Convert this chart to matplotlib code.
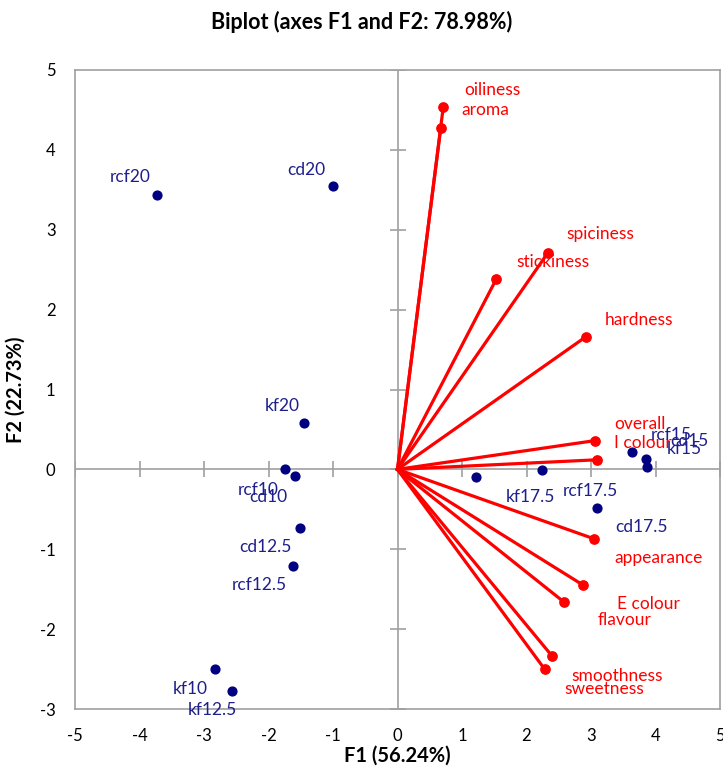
import matplotlib.pyplot as plt

# observations (F1, F2)
obs_names = ['rcf20', 'cd20', 'kf20', 'rcf10', 'cd10', 'cd12.5', 'rcf12.5', 'kf10', 'kf12.5',
             'kf17.5', 'rcf17.5', 'cd17.5', 'rcf15', 'cd15', 'kf15']
obs_f1 = [-3.73, -1.00, -1.45, -1.74, -1.59, -1.51, -1.62, -2.83, -2.57,
          1.22, 2.24, 3.09, 3.64, 3.85, 3.87]
obs_f2 = [3.44, 3.55, 0.58, 0.00, -0.08, -0.74, -1.21, -2.50, -2.78,
          -0.09, -0.01, -0.48, 0.22, 0.13, 0.03]

# variables (F1, F2)
var_names = ['oiliness', 'aroma', 'spiciness', 'stickiness', 'hardness', 'overall', 'I colour',
             'appearance', 'E colour', 'flavour', 'smoothness', 'sweetness']
var_f1 = [0.71, 0.67, 2.33, 1.53, 2.92, 3.06, 3.09, 3.05, 2.88, 2.58, 2.40, 2.28]
var_f2 = [4.54, 4.27, 2.71, 2.38, 1.66, 0.36, 0.12, -0.87, -1.45, -1.66, -2.34, -2.50]

xticks = list(range(-5, 6))
yticks = list(range(-3, 6))

RED = '#ff0000'
NAVY = '#000080'
LNAVY = '#1f1f8c'
GRAY = '#a0a0a0'

plt.rcParams['font.family'] = ['Lato', 'DejaVu Sans']
plt.rcParams['axes.unicode_minus'] = False

fig = plt.figure(figsize=(7.23, 7.74), dpi=100)
ax = fig.add_axes([75 / 723, 1 - 709 / 774, 645 / 723, 639 / 774])
ax.set_xlim(-5, 5)
ax.set_ylim(-3, 5)

# zero axes with tick marks
ax.axhline(0, color=GRAY, lw=1.2, zorder=1)
ax.axvline(0, color=GRAY, lw=1.2, zorder=1)
ax.plot(xticks, [0] * len(xticks), ls='none', marker='|', ms=11, mew=1.2, color=GRAY, zorder=1)
ax.plot([0] * len(yticks), yticks, ls='none', marker='_', ms=11, mew=1.2, color=GRAY, zorder=1)

# variable vectors
for x, y in zip(var_f1, var_f2):
    ax.plot([0, x], [0, y], color=RED, lw=2.3, zorder=2)
ax.scatter(var_f1, var_f2, s=45, color=RED, zorder=3)

var_offsets = {
    'oiliness': (49, -17), 'aroma': (45, -18), 'spiciness': (53, -19), 'stickiness': (57, -17),
    'hardness': (53, -17), 'overall': (45, -17), 'I colour': (46, -17), 'appearance': (64, 19),
    'E colour': (65, 19), 'flavour': (61, 18), 'smoothness': (65, 20), 'sweetness': (60, 20),
}
for name, x, y in zip(var_names, var_f1, var_f2):
    dx, dy = var_offsets[name]
    ax.annotate(name, (x, y), xytext=(dx, -dy), textcoords='offset pixels',
                ha='center', va='center', color=RED, fontsize=12.5, zorder=4)

# observations
ax.scatter(obs_f1, obs_f2, s=40, color=NAVY, zorder=3)

obs_offsets = {
    'rcf20': (-27, -18), 'cd20': (-27, -16), 'kf20': (-22, -17), 'rcf10': (-27, 21),
    'cd10': (-27, 21), 'cd12.5': (-35, 19), 'rcf12.5': (-34, 19), 'kf10': (-25, 20),
    'kf12.5': (-19, 19), 'kf17.5': (54, 20), 'rcf17.5': (48, 21), 'cd17.5': (45, 19),
    'rcf15': (39, -17), 'cd15': (44, -18), 'kf15': (37, -18),
}
for name, x, y in zip(obs_names, obs_f1, obs_f2):
    dx, dy = obs_offsets[name]
    ax.annotate(name, (x, y), xytext=(dx, -dy), textcoords='offset pixels',
                ha='center', va='center', color=LNAVY, fontsize=12.5, zorder=4)

ax.set_xticks(xticks)
ax.set_yticks(yticks)
ax.tick_params(length=0, labelsize=12, pad=14)
for s in ax.spines.values():
    s.set_color(GRAY)
    s.set_linewidth(1.2)

ax.set_xlabel('F1 (56.24%)', fontsize=14.5, fontweight='bold', labelpad=1)
ax.set_ylabel('F2 (22.73%)', fontsize=14.5, fontweight='bold', labelpad=10)
fig.text(0.5, 1 - 22 / 774, 'Biplot (axes F1 and F2: 78.98%)', ha='center', va='center',
         fontsize=15.5, fontweight='bold')

fig.savefig('out.png', dpi=100)
